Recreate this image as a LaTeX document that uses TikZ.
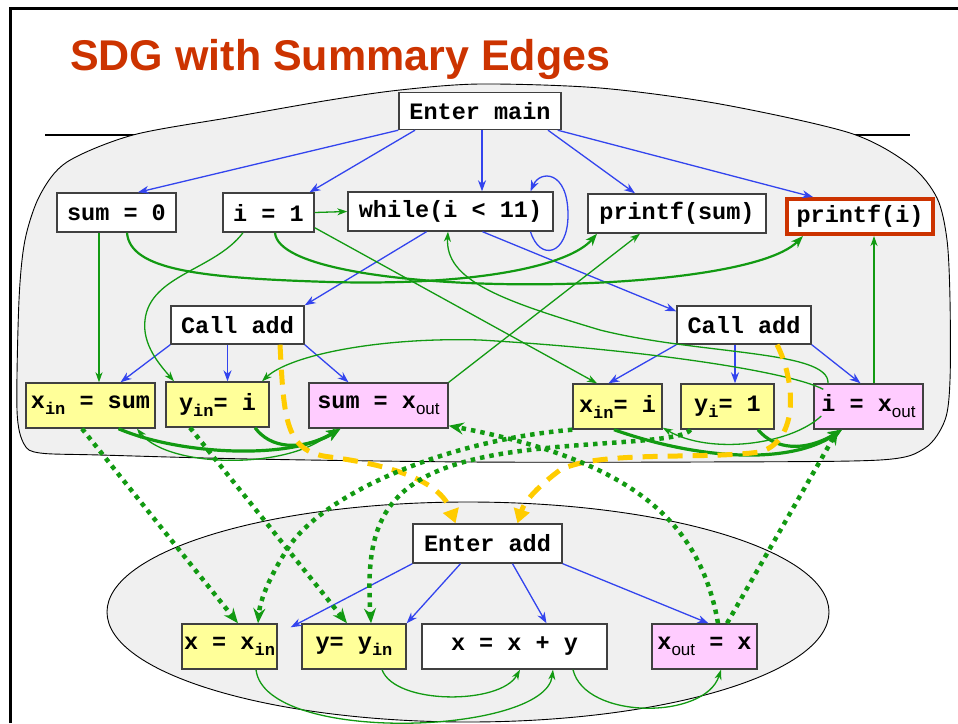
\documentclass[tikz,border=0pt]{standalone}
\usepackage{fontspec}
\usetikzlibrary{arrows.meta}
\newfontfamily\cfont{Liberation Mono}
\newfontfamily\sfont{Liberation Sans}
\definecolor{boxline}{HTML}{404040}
\definecolor{yel}{HTML}{FFFF99}
\definecolor{pnk}{HTML}{FFCCFF}
\definecolor{blobgray}{HTML}{F0F0F0}
\definecolor{ctrlblue}{HTML}{3344EE}
\definecolor{depgreen}{HTML}{129A12}
\definecolor{callyel}{HTML}{FFCC00}
\definecolor{titlered}{HTML}{CC3300}
\newcommand{\lo}[1]{\raisebox{-6pt}{\fontsize{17}{17}\selectfont #1}}
\newcommand{\lso}[1]{\raisebox{-6pt}{\fontsize{17}{17}\selectfont\sfont\mdseries #1}}
\newcommand{\nodefont}{\cfont\bfseries\fontsize{23.5}{26}\selectfont}
\tikzset{
  box/.style={draw=boxline, line width=1.4pt, fill=white, inner sep=0pt, font=\nodefont, text=black},
  yelbox/.style={box, fill=yel},
  pnkbox/.style={box, fill=pnk},
  ctrl/.style={draw=ctrlblue, line width=1.3pt, -{Stealth[length=11pt,width=8pt,inset=3.5pt]}},
  dep/.style={draw=depgreen, line width=1.3pt, -{Stealth[length=10pt,width=7pt,inset=3pt]}},
  depm/.style={dep, line width=2.2pt, -{Stealth[length=12pt,width=9pt,inset=3.5pt]}},
  summ/.style={draw=depgreen, line width=3.2pt, -{Stealth[length=14pt,width=11pt,inset=4pt]}},
  param/.style={draw=depgreen, line width=4.5pt, dash pattern=on 4.5pt off 5pt, -{Stealth[length=15pt,width=12pt,inset=5pt]}},
  callc/.style={draw=callyel, line width=5pt, dash pattern=on 15pt off 10pt, -{Triangle[length=14pt,width=16pt]}},
}
\begin{document}
\begin{tikzpicture}[x=1pt,y=-1pt]
\useasboundingbox (0,0) rectangle (958,723);
% frame
\draw[line width=3pt] (10,723) -- (10,8) -- (958,8);
\draw[line width=2pt] (45,135) -- (910,135);
\node[anchor=base west, font=\sfont\bfseries\fontsize{43}{46}\selectfont, text=titlered, inner sep=0pt] (title) at (70,70) {SDG with Summary Edges};
% regions
\draw[fill=blobgray, line width=0.9pt] plot[smooth cycle] coordinates {
 (480,84) (600,88) (720,104) (850,133) (910,165) (937,198) (947,240) (950,300) (950,380) (945,420) (925,448) (880,460) (700,462) (470,462) (250,459) (100,455) (40,453) (24,444) (17,410) (19,300) (25,240) (40,195) (67,162) (133,135) (233,117) (330,100) (400,90)};
\draw[fill=blobgray, line width=0.9pt] (468,612) ellipse [x radius=361pt, y radius=110pt];
% nodes
\node[box, minimum width=162pt, minimum height=37pt] (em) at (480,111) {Enter main};
\node[box, minimum width=119pt, minimum height=39pt] (s0) at (116.5,212.5) {sum = 0};
\node[box, minimum width=91pt, minimum height=39pt] (i1) at (268.5,212.5) {i = 1};
\node[box, minimum width=205pt, minimum height=39pt] (wh) at (450.5,211.5) {while(i < 11)};
\node[box, minimum width=178pt, minimum height=39pt] (ps) at (677,213.5) {printf(sum)};
\node[box, draw=titlered, line width=4pt, minimum width=146pt, minimum height=35pt] (pi) at (860,216.5) {printf(i)};
\node[box, minimum width=133pt, minimum height=38pt] (ca1) at (237.5,325) {Call add};
\node[box, minimum width=134pt, minimum height=38pt] (ca2) at (744,325) {Call add};
\node[yelbox, minimum width=129pt, minimum height=45pt] (xs) at (90.5,405.5) {x\lo{in} = sum};
\node[yelbox, minimum width=103pt, minimum height=45pt] (yi) at (217.5,404.5) {y\lo{in}= i};
\node[pnkbox, minimum width=139pt, minimum height=45pt] (sx) at (378.5,405.5) {sum = x\lso{out}};
\node[yelbox, minimum width=89pt, minimum height=45pt] (xi) at (617.5,406.5) {x\lo{in}= i};
\node[yelbox, minimum width=93pt, minimum height=45pt] (y1) at (727.5,406.5) {y\lo{i}= 1};
\node[pnkbox, minimum width=109pt, minimum height=45pt] (ix) at (868.5,406.5) {i = x\lso{out}};
\node[box, minimum width=149pt, minimum height=39pt] (ea) at (487.5,543.5) {Enter add};
\node[yelbox, minimum width=95pt, minimum height=45pt] (xx) at (229.5,646.5) {x = x\lo{in}};
\node[yelbox, minimum width=104pt, minimum height=45pt] (yy) at (354,646.5) {y= y\lo{in}};
\node[box, minimum width=185pt, minimum height=45pt] (xp) at (514.5,646.5) {x = x + y};
\node[pnkbox, minimum width=105pt, minimum height=45pt] (xo) at (704.5,646.5) {x\lso{out} = x};
% control edges
\draw[ctrl] (em.south west) -- ([xshift=21.5pt]s0.north);
\draw[ctrl] ([xshift=-65pt]em.south) -- ([xshift=41pt]i1.north);
\draw[ctrl] ([xshift=2pt]em.south) -- ([xshift=31.5pt]wh.north);
\draw[ctrl] ([xshift=68pt]em.south) -- ([xshift=-42pt]ps.north);
\draw[ctrl] ([xshift=-4pt]em.south east) -- ([xshift=-47pt]pi.north);
\draw[ctrl] ([xshift=80pt]wh.south) .. controls (540,262) and (568,255) .. (568,215) .. controls (568,170) and (540,170) .. ([xshift=80pt]wh.north);
\draw[ctrl] ([xshift=-24pt]wh.south) -- (ca1.north east);
\draw[ctrl] ([xshift=32pt]wh.south) -- ([yshift=-6pt]ca2.north west);
\draw[ctrl] (ca1.south west) -- ([xshift=30pt]xs.north);
\draw[ctrl] ([xshift=-10pt]ca1.south) -- ([xshift=10pt]yi.north);
\draw[ctrl] (ca1.south east) -- ([xshift=-30pt]sx.north);
\draw[ctrl] (ca2.south west) -- ([xshift=-9pt]xi.north);
\draw[ctrl] ([xshift=-9pt]ca2.south) -- ([xshift=7.5pt]y1.north);
\draw[ctrl] (ca2.south east) -- ([xshift=-8pt]ix.north);
\draw[ctrl] (ea.south west) -- ([xshift=13pt,yshift=-4pt]xx.north east);
\draw[ctrl] ([xshift=-27pt]ea.south) -- (yy.north east);
\draw[ctrl] ([xshift=25pt]ea.south) -- ([xshift=32pt]xp.north);
\draw[ctrl] (ea.south east) -- ([xshift=4pt]xo.north);
% data edges (main)
\draw[dep] ([xshift=-17.5pt]s0.south) -- ([xshift=-17.5pt]s0.south |- xs.north);
\draw[dep] (i1.east) -- (wh.west);
\draw[dep] ([xshift=-25.5pt]i1.south) .. controls (215,270) and (150,275) .. (145,320) .. controls (142,345) and (160,365) .. ([xshift=-43.5pt]yi.north);
\draw[dep] ([yshift=5pt]i1.south east) -- ([xshift=-20.5pt]xi.north);
\draw[dep] (sx.north east) -- ([xshift=-37pt]ps.south);
\draw[dep] ([xshift=5.5pt]ix.north) -- ([xshift=14pt]pi.south);
\draw[dep] ([xshift=-40.5pt]ix.north) .. controls (830,350) and (700,355) .. (600,330) .. controls (500,300) and (445,280) .. ([xshift=-2.5pt]wh.south);
\draw[dep] ([xshift=10pt,yshift=-6pt]ix.north west) .. controls (790,372) and (650,350) .. (480,340) .. controls (380,337) and (290,355) .. ([xshift=44.5pt]yi.north);
\draw[dep] ([xshift=-44pt]sx.south) .. controls (300,470) and (170,470) .. ([xshift=46.5pt]xs.south);
\draw[dep] ([xshift=8pt,yshift=-9.5pt]ix.west) .. controls (790,445) and (710,455) .. ([yshift=2pt]xi.south east);
\draw[depm] ([xshift=10.5pt]s0.south) .. controls (130,270) and (200,278) .. (330,282) .. controls (480,286) and (570,265) .. ([xshift=-80pt]ps.south);
\draw[depm] ([xshift=6.5pt]i1.south) .. controls (280,300) and (740,300) .. ([xshift=-57pt]pi.south);
% summary edges
\draw[summ] ([xshift=28pt]xs.south) .. controls (180,455) and (290,460) .. ([xshift=-38pt]sx.south);
\draw[summ] ([xshift=37.5pt]yi.south) .. controls (270,448) and (300,452) .. ([xshift=-38pt]sx.south);
\draw[summ] ([xshift=-3.5pt]xi.south) .. controls (700,460) and (790,465) .. ([xshift=-26.5pt]ix.south);
\draw[summ] ([xshift=30.5pt]y1.south) .. controls (775,450) and (805,452) .. ([xshift=-26.5pt]ix.south);
% call edges
\draw[callc] ([xshift=42.5pt]ca1.south) .. controls (284,420) and (285,452) .. (330,457) .. controls (390,465) and (440,480) .. ([xshift=-32pt]ea.north);
\draw[callc] ([xshift=33pt]ca2.south) .. controls (795,380) and (800,440) .. (760,452) .. controls (700,460) and (600,450) .. (560,470) .. controls (540,485) and (525,500) .. ([xshift=30pt]ea.north);
% parameter edges
\draw[param] ([xshift=-8.5pt]xs.south) -- ([xshift=8.5pt]xx.north);
\draw[param] ([xshift=-27.5pt]yi.south) -- ([xshift=-7pt]yy.north);
\draw[param] (xi.south west) .. controls (450,440) and (330,490) .. (290,545) .. controls (270,575) and (260,600) .. ([xshift=28.5pt]xx.north);
\draw[param] ([xshift=-37pt]y1.south) .. controls (680,445) and (560,440) .. (480,458) .. controls (380,480) and (365,530) .. ([xshift=17pt]yy.north);
\draw[param] ([xshift=13.5pt]xo.north) .. controls (700,520) and (630,460) .. ([yshift=3pt]sx.south east);
\draw[param] ([xshift=22.5pt]xo.north) -- ([xshift=-30.5pt]ix.south);
% data edges (add)
\draw[dep] ([xshift=26.5pt]xx.south) .. controls (265,745) and (545,735) .. ([xshift=38.5pt]xp.south);
\draw[dep] ([xshift=28pt]yy.south) .. controls (395,705) and (500,705) .. ([xshift=5.5pt]xp.south);
\draw[dep] ([xshift=58.5pt]xp.south) .. controls (585,720) and (705,720) .. ([xshift=16.5pt]xo.south);
\end{tikzpicture}
\end{document}
